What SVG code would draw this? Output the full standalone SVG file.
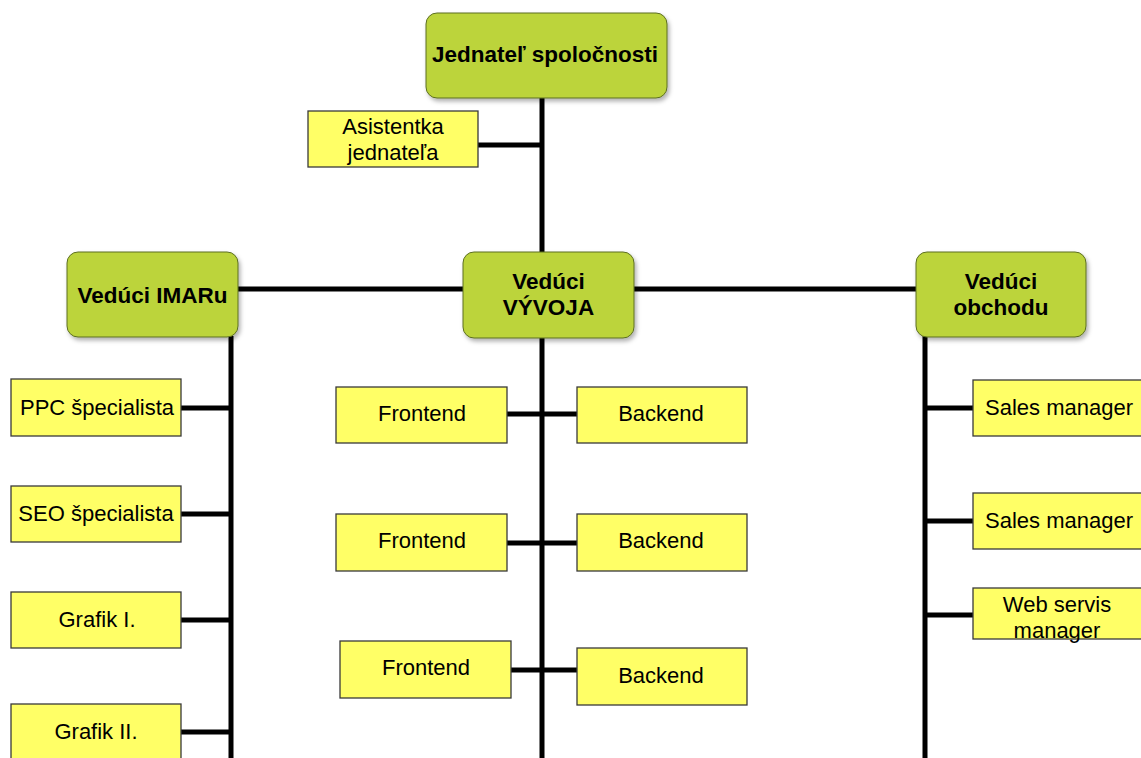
<svg xmlns="http://www.w3.org/2000/svg" width="1141" height="758" viewBox="0 0 1141 758">
<defs>
<filter id="sh" x="-10%" y="-10%" width="130%" height="140%">
<feDropShadow dx="2" dy="3" stdDeviation="2" flood-color="#000" flood-opacity="0.3"/>
</filter>
<style>
.g{fill:#bcd43b;stroke:#5c6e22;stroke-width:1;filter:url(#sh)}
.y{fill:#ffff66;stroke:#3a3a3a;stroke-width:1.3}
.tb{font-family:"Liberation Sans",Arial,sans-serif;font-weight:bold;font-size:22.5px;fill:#000;text-anchor:middle}
.t{font-family:"Liberation Sans",Arial,sans-serif;font-size:22px;fill:#000;text-anchor:middle}
.c{stroke:#000;stroke-width:5;fill:none}
</style>
</defs>
<rect width="1141" height="758" fill="#fff"/>
<g id="connectors">
<line class="c" x1="542" y1="98" x2="542" y2="254"/>
<line class="c" x1="542" y1="336" x2="542" y2="758"/>
<line class="c" x1="478" y1="145" x2="542" y2="145"/>
<line class="c" x1="238" y1="289" x2="464" y2="289"/>
<line class="c" x1="634" y1="289" x2="916" y2="289"/>
<line class="c" x1="231" y1="336" x2="231" y2="758"/>
<line class="c" x1="181" y1="408" x2="231" y2="408"/>
<line class="c" x1="181" y1="514" x2="231" y2="514"/>
<line class="c" x1="181" y1="620" x2="231" y2="620"/>
<line class="c" x1="181" y1="732" x2="231" y2="732"/>
<line class="c" x1="507" y1="414" x2="577" y2="414"/>
<line class="c" x1="507" y1="543" x2="577" y2="543"/>
<line class="c" x1="511" y1="670" x2="577" y2="670"/>
<line class="c" x1="925" y1="336" x2="925" y2="758"/>
<line class="c" x1="925" y1="408" x2="973" y2="408"/>
<line class="c" x1="925" y1="521" x2="973" y2="521"/>
<line class="c" x1="925" y1="615" x2="973" y2="615"/>
</g>
<g id="n-jednatel"><rect class="g" x="426" y="13" width="241" height="85" rx="11"/><text class="tb" x="545" y="62">Jednateľ spoločnosti</text></g>
<g id="n-asistentka"><rect class="y" x="308" y="111" width="170" height="56"/><text class="t" x="393" y="134">Asistentka</text><text class="t" x="393" y="160">jednateľa</text></g>
<g id="n-imar"><rect class="g" x="67" y="252" width="171" height="85" rx="11"/><text class="tb" x="152.5" y="303">Vedúci IMARu</text></g>
<g id="n-vyvoj"><rect class="g" x="463" y="252" width="171" height="86" rx="11"/><text class="tb" x="548.5" y="289">Vedúci</text><text class="tb" x="548.5" y="315">VÝVOJA</text></g>
<g id="n-obchod"><rect class="g" x="916" y="252" width="170" height="85" rx="11"/><text class="tb" x="1001" y="289">Vedúci</text><text class="tb" x="1001" y="315">obchodu</text></g>
<g id="n-ppc"><rect class="y" x="11" y="379" width="170" height="57"/><text class="t" x="97" y="415">PPC špecialista</text></g>
<g id="n-seo"><rect class="y" x="11" y="486" width="170" height="56"/><text class="t" x="96" y="521">SEO špecialista</text></g>
<g id="n-grafik1"><rect class="y" x="11" y="592" width="170" height="56"/><text class="t" x="97" y="627">Grafik I.</text></g>
<g id="n-grafik2"><rect class="y" x="11" y="704" width="170" height="58"/><text class="t" x="96" y="739">Grafik II.</text></g>
<g id="n-fe1"><rect class="y" x="336" y="387" width="171" height="56"/><text class="t" x="422" y="421">Frontend</text></g>
<g id="n-be1"><rect class="y" x="577" y="387" width="170" height="56"/><text class="t" x="661" y="421">Backend</text></g>
<g id="n-fe2"><rect class="y" x="336" y="514" width="171" height="57"/><text class="t" x="422" y="548">Frontend</text></g>
<g id="n-be2"><rect class="y" x="577" y="514" width="170" height="57"/><text class="t" x="661" y="548">Backend</text></g>
<g id="n-fe3"><rect class="y" x="340" y="641" width="171" height="57"/><text class="t" x="426" y="675">Frontend</text></g>
<g id="n-be3"><rect class="y" x="577" y="648" width="170" height="57"/><text class="t" x="661" y="683">Backend</text></g>
<g id="n-sales1"><rect class="y" x="973" y="380" width="170" height="56"/><text class="t" x="1059" y="415">Sales manager</text></g>
<g id="n-sales2"><rect class="y" x="973" y="493" width="170" height="56"/><text class="t" x="1059" y="528">Sales manager</text></g>
<g id="n-web"><rect class="y" x="973" y="588" width="170" height="51"/><text class="t" x="1057" y="612">Web servis</text><text class="t" x="1057" y="638">manager</text></g>
</svg>
